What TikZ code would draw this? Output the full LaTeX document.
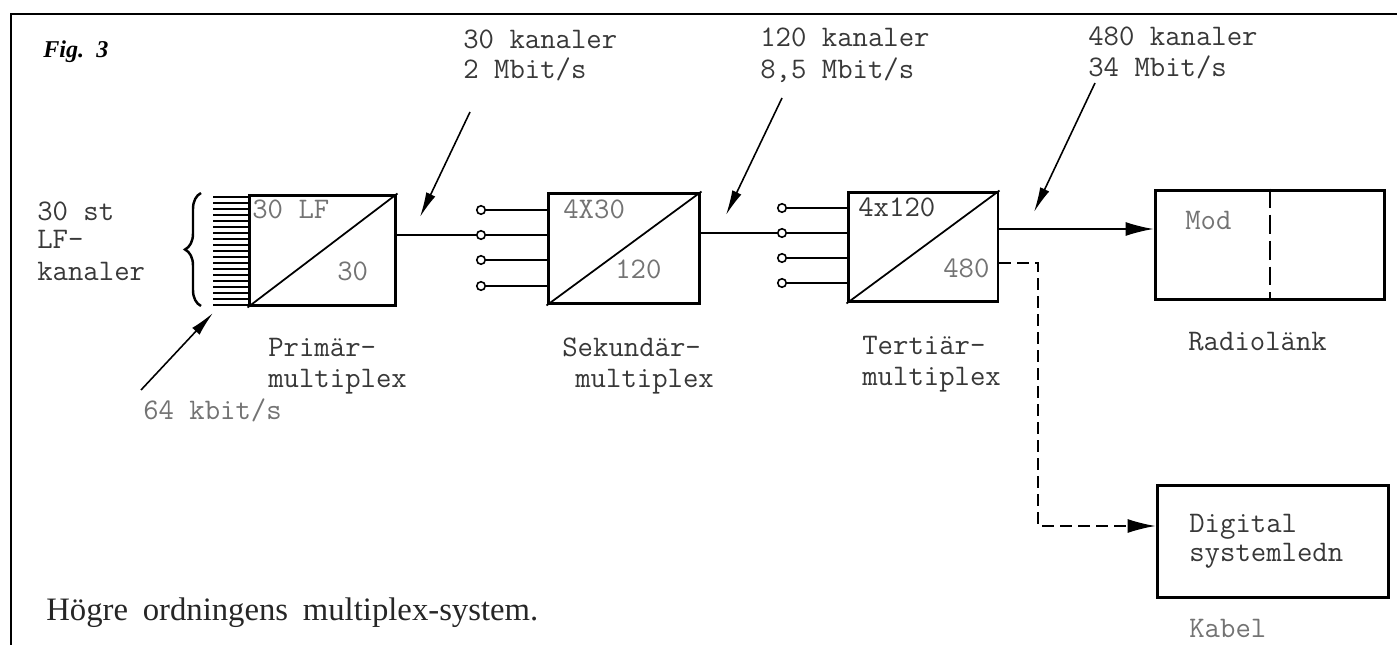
\documentclass[tikz,border=0pt]{standalone}
\usepackage{fontspec}
\newfontfamily\capfont{Liberation Serif}
\usetikzlibrary{arrows.meta,decorations.pathreplacing}
\definecolor{ink}{gray}{0.22}
\definecolor{lightink}{gray}{0.45}
\begin{document}
\begin{tikzpicture}[x=0.02cm,y=-0.02cm,
  box/.style={draw, line width=1.7pt, inner sep=0},
  mono/.style={font=\fontsize{17}{20}\selectfont\ttfamily, text=ink, inner sep=0, anchor=base west},
  lightmono/.style={mono, text=lightink},
  wire/.style={line width=0.9pt},
  port/.style={circle, draw, line width=0.9pt, fill=white, minimum size=0.17cm, inner sep=0},
  pointer/.style={line width=0.9pt, -{Latex[length=0.5cm,width=0.2cm]}},
  feed/.style={line width=0.9pt, -{Latex[length=0.56cm,width=0.28cm]}},
  diag/.style={line width=1pt}
]
\useasboundingbox (0,0) rectangle (1397,645);
% frame
\draw[line width=1.6pt] (11,645) -- (11,14) -- (1397,14);

% caption texts
\node[inner sep=0, anchor=base west] (fig) at (43,58)
  {\resizebox{1.3cm}{!}{\capfont\bfseries\itshape Fig.\hspace{0.5em}3}};
\node[inner sep=0, anchor=base west, text=black!85] (cap) at (46,620)
  {\resizebox{9.84cm}{!}{\capfont Högre\hspace{0.45em}ordningens\hspace{0.45em}multiplex-system.}};

% boxes
\node[box, minimum width=2.94cm, minimum height=2.22cm] (p) at (322.5,250.5) {};
\node[box, minimum width=3.04cm, minimum height=2.22cm] (s) at (624,248.5) {};
\node[box, minimum width=3.00cm, minimum height=2.20cm] (t) at (923,247) {};
\node[box, minimum width=4.60cm, minimum height=2.20cm] (r) at (1270,245) {};
\node[box, minimum width=4.64cm, minimum height=2.26cm] (dg) at (1273,541.5) {};

\draw[diag] (p.south west) -- (p.north east);
\draw[diag] (s.south west) -- (s.north east);
\draw[diag] (t.south west) -- (t.north east);
\draw[line width=1.6pt, dash pattern=on 0.38cm off 0.14cm] (r.north) -- (r.south);

% hatch of LF inputs
\foreach \i in {0,...,18} \draw[line width=1.1pt] (213,{197+6*\i}) -- (249,{197+6*\i});
% brace
\draw[line width=1.4pt, decorate, decoration={brace, amplitude=0.32cm}] (201,306) -- (201,193);

% ports of secondary
\foreach \k/\yy in {1/210,2/235,3/260,4/286} {
  \node[port] (c2\k) at (481,\yy) {};
  \draw[wire] (c2\k) -- (c2\k -| s.west);
}
% ports of tertiary
\foreach \k/\yy in {1/208,2/233,3/258,4/283} {
  \node[port] (c3\k) at (782,\yy) {};
  \draw[wire] (c3\k) -- (c3\k -| t.west);
}
\draw[wire] (p.east |- c22) -- (c22);
\draw[wire] (s.east |- c32) -- (c32);

% outputs of tertiary
\path (0,229) coordinate (y229) (0,263) coordinate (y263) (1038,526) coordinate (bend);
\draw[feed] (t.east |- y229) -- (r.west |- y229);
\draw[line width=0.9pt, dash pattern=on 0.24cm off 0.12cm, -{Latex[length=0.56cm,width=0.28cm]}]
  (t.east |- y263) -- (bend |- y263) -- (bend) -- (dg.west |- bend);

% texts in boxes
\node[lightmono] (t1) at (252,219) {30 LF};
\node[lightmono] (t2) at (337,281) {30};
\node[lightmono] (t3) at (563,219) {4X30};
\node[lightmono] (t4) at (615,279) {120};
\node[mono] (t5) at (858,217) {4x120};
\node[lightmono] (t6) at (943,278) {480};
\node[lightmono] (t7) at (1185,230) {Mod};
\node[mono] (t8) at (1189,532) {Digital};
\node[mono] (t9) at (1189,561) {systemledn};

% labels under boxes
\node[mono] (l1) at (268,357) {Primär-};
\node[mono] (l2) at (268,387) {multiplex};
\node[mono] (l3) at (562,357) {Sekundär-};
\node[mono] (l4) at (575,387) {multiplex};
\node[mono] (l5) at (862,355) {Tertiär-};
\node[mono] (l6) at (862,385) {multiplex};
\node[mono] (l7) at (1188,351) {Radiolänk};
\node[lightmono] (l8) at (1189,637) {Kabel};

% left label
\node[mono] (lf1) at (37,221) {30 st};
\node[mono] (lf2) at (37,249) {LF-};
\node[mono] (lf3) at (37,281) {kanaler};
\node[lightmono] (kb) at (143,419) {64 kbit/s};

% top labels
\node[mono] (a1) at (463,49) {30 kanaler};
\node[mono] (a2) at (463,79) {2 Mbit/s};
\node[mono] (b1) at (760,47) {120 kanaler};
\node[mono] (b2) at (760,79) {8,5 Mbit/s};
\node[mono] (d1) at (1088,46) {480 kanaler};
\node[mono] (d2) at (1088,77) {34 Mbit/s};

% pointer arrows
\coordinate (pa1) at (470,112); \coordinate (pa2) at (420,217);
\coordinate (pb1) at (782,98);  \coordinate (pb2) at (726,215);
\coordinate (pd1) at (1095,83); \coordinate (pd2) at (1034,212);
\coordinate (pk1) at (141,390); \coordinate (pk2) at (213,313);
\draw[pointer] (pa1) -- (pa2);
\draw[pointer] (pb1) -- (pb2);
\draw[pointer] (pd1) -- (pd2);
\draw[pointer] (pk1) -- (pk2);
\end{tikzpicture}
\end{document}
